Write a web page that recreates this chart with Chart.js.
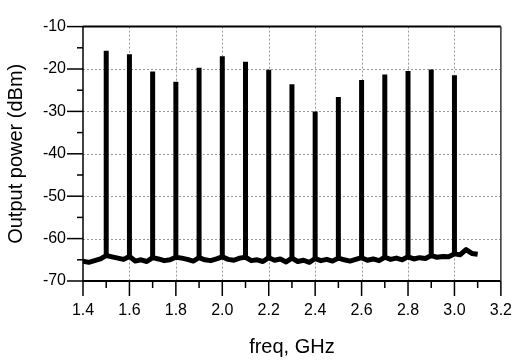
<!DOCTYPE html>
<html>
<head>
<meta charset="utf-8">
<script src="https://cdn.jsdelivr.net/npm/chart.js@4/dist/chart.umd.min.js"></script>
<style>
  html, body { margin: 0; padding: 0; background: #fff; }
  #wrap { width: 532px; height: 363px; }
</style>
</head>
<body>
<div id="wrap"><canvas id="c" width="532" height="363"></canvas></div>
<script>
// ---- data ----
const peakFreqs  = [1.5, 1.6, 1.7, 1.8, 1.9, 2.0, 2.1, 2.2, 2.3, 2.4, 2.5, 2.6, 2.7, 2.8, 2.9, 3.0];
const peakLevels = [-15.7, -16.5, -20.6, -23.0, -19.7, -17.0, -18.3, -20.2, -23.6, -30.0, -26.6, -22.6, -21.3, -20.5, -20.1, -21.5];

const floorFreqs = [
  1.400, 1.425, 1.450, 1.475, 1.500, 1.525, 1.550, 1.575, 1.600, 1.625, 1.650, 1.675,
  1.700, 1.725, 1.750, 1.775, 1.800, 1.825, 1.850, 1.875, 1.900, 1.925, 1.950, 1.975,
  2.000, 2.025, 2.050, 2.075, 2.100, 2.125, 2.150, 2.175, 2.200, 2.225, 2.250, 2.275,
  2.300, 2.325, 2.350, 2.375, 2.400, 2.425, 2.450, 2.475, 2.500, 2.525, 2.550, 2.575,
  2.600, 2.625, 2.650, 2.675, 2.700, 2.725, 2.750, 2.775, 2.800, 2.825, 2.850, 2.875,
  2.900, 2.925, 2.950, 2.975, 3.000, 3.025, 3.050, 3.075, 3.100
];
const floorLevels = [
  -65.3, -65.6, -65.2, -64.8, -64.0, -64.3, -64.6, -64.9, -64.2, -65.3, -65.0, -65.4,
  -64.5, -64.8, -65.2, -65.0, -64.4, -64.6, -64.9, -65.3, -64.5, -65.0, -65.2, -64.8,
  -64.3, -64.9, -65.1, -64.6, -64.4, -65.2, -65.0, -65.4, -64.5, -65.1, -64.8, -65.5,
  -64.6, -65.4, -65.1, -65.6, -64.7, -65.2, -64.9, -65.3, -64.6, -65.0, -65.3, -64.9,
  -64.5, -65.1, -64.8, -65.2, -64.4, -64.9, -64.6, -65.0, -64.3, -64.8, -64.5, -64.7,
  -64.0, -64.4, -64.2, -64.3, -63.6, -63.8, -62.6, -63.5, -63.7
];

const xMin = 1.4, xMax = 3.2, xMajor = 0.2, xMinor = 0.1;
const yMin = -70, yMax = -10, yMajor = 10, yMinor = 5;
const xTitle = 'freq, GHz';
const yTitle = 'Output power (dBm)';

// ---- build datasets from the arrays ----
const floorData = floorFreqs.map((f, i) => ({ x: f, y: floorLevels[i] }));
const spikeData = [];
peakFreqs.forEach((f, i) => {
  const j = floorFreqs.findIndex(v => Math.abs(v - f) < 1e-6);
  const base = j >= 0 ? floorLevels[j] : -65;
  spikeData.push({ x: f, y: base }, { x: f, y: peakLevels[i] }, { x: f, y: null });
});

const FONT = "'Liberation Sans', Arial, sans-serif";

function range(a, b, s) {
  const out = [];
  const n = Math.round((b - a) / s);
  for (let k = 0; k <= n; k++) out.push(+(a + k * s).toFixed(6));
  return out;
}

const decor = {
  id: 'decor',
  beforeDatasetsDraw(chart) {
    const { ctx, chartArea: a, scales: { x, y } } = chart;
    ctx.save();
    ctx.strokeStyle = '#9a9a9a';
    ctx.lineWidth = 1;
    ctx.setLineDash([2, 2]);
    range(xMin, xMax, xMajor).forEach(v => {
      if (v <= xMin || v >= xMax) return;
      const px = Math.round(x.getPixelForValue(v)) + 0.5;
      ctx.beginPath(); ctx.moveTo(px, a.top); ctx.lineTo(px, a.bottom); ctx.stroke();
    });
    range(yMin, yMax, yMajor).forEach(v => {
      if (v <= yMin || v >= yMax) return;
      const py = Math.round(y.getPixelForValue(v)) + 0.5;
      ctx.beginPath(); ctx.moveTo(a.left, py); ctx.lineTo(a.right, py); ctx.stroke();
    });
    ctx.restore();
  },
  afterDatasetsDraw(chart) {
    const { ctx, chartArea: a, scales: { x, y } } = chart;
    ctx.save();
    ctx.setLineDash([]);
    ctx.strokeStyle = '#000';
    ctx.lineWidth = 2;
    ctx.beginPath(); ctx.moveTo(a.left, a.top); ctx.lineTo(a.right, a.top); ctx.stroke();
    ctx.beginPath(); ctx.moveTo(a.left, a.bottom); ctx.lineTo(a.right, a.bottom); ctx.stroke();
    ctx.lineWidth = 1.5;
    ctx.beginPath(); ctx.moveTo(a.left, a.top); ctx.lineTo(a.left, a.bottom); ctx.stroke();
    ctx.strokeStyle = '#333';
    ctx.beginPath(); ctx.moveTo(a.right, a.top); ctx.lineTo(a.right, a.bottom); ctx.stroke();
    ctx.strokeStyle = '#000';
    range(xMin, xMax, xMinor).forEach((v, k) => {
      const px = x.getPixelForValue(v);
      const len = (k % 2 === 0) ? 15 : 7;
      ctx.beginPath(); ctx.moveTo(px, a.bottom); ctx.lineTo(px, a.bottom + len); ctx.stroke();
    });
    range(yMin, yMax, yMinor).forEach((v, k) => {
      const py = y.getPixelForValue(v);
      const len = (k % 2 === 0) ? 16 : 6;
      ctx.beginPath(); ctx.moveTo(a.left, py); ctx.lineTo(a.left - len, py); ctx.stroke();
    });
    ctx.restore();
  }
};

new Chart(document.getElementById('c'), {
  type: 'line',
  data: {
    datasets: [
      { data: floorData, borderColor: '#000', borderWidth: 5, pointRadius: 0, tension: 0, borderJoinStyle: 'round' },
      { data: spikeData, borderColor: '#000', borderWidth: 5, pointRadius: 0, tension: 0, spanGaps: false }
    ]
  },
  options: {
    responsive: false,
    animation: false,
    devicePixelRatio: 1,
    layout: { padding: { top: 16, right: 7, left: 0, bottom: 0 } },
    plugins: { legend: { display: false }, tooltip: { enabled: false } },
    scales: {
      x: {
        type: 'linear', min: xMin, max: xMax,
        grid: { display: false, drawTicks: false },
        border: { display: false },
        ticks: {
          stepSize: xMajor, padding: 20, color: '#000',
          font: { family: FONT, size: 16 },
          callback: v => v.toFixed(1)
        },
        title: { display: true, text: xTitle, color: '#000', font: { family: FONT, size: 20 }, padding: { top: 10 } },
        afterFit: s => { s.height = 82; }
      },
      y: {
        min: yMin, max: yMax,
        grid: { display: false, drawTicks: false },
        border: { display: false },
        ticks: {
          stepSize: yMajor, padding: 17, color: '#000',
          font: { family: FONT, size: 16 },
          callback: v => String(v)
        },
        title: { display: true, text: yTitle, color: '#000', font: { family: FONT, size: 20 }, padding: { bottom: 4 } },
        afterFit: s => { s.width = 83; }
      }
    }
  },
  plugins: [decor]
});
</script>
</body>
</html>
